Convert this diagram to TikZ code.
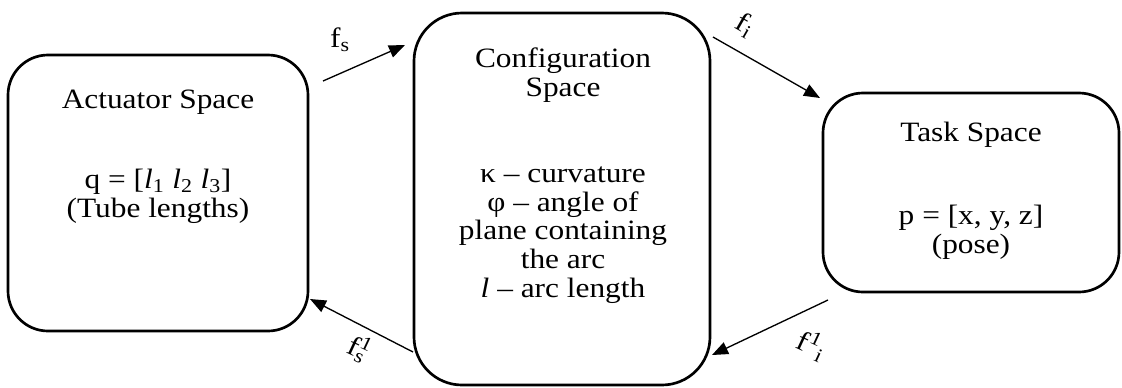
\documentclass[tikz,border=0pt]{standalone}
\usepackage{fontspec}
\setmainfont{Liberation Serif}[FakeStretch=1.12]
\usetikzlibrary{arrows.meta}
\begin{document}
\begin{tikzpicture}[x=0.75pt,y=-0.75pt,
  box/.style={draw,line width=2pt,rounded corners=30pt},
  txt/.style={align=center,inner sep=0pt,font=\fontsize{21}{21.6}\selectfont},
  lbl/.style={inner sep=0pt,font=\fontsize{21}{22}\selectfont},
  conn/.style={line width=1pt,-{Triangle[length=12pt,width=9.5pt]}}]
\useasboundingbox (0,0) rectangle (1122,387);
% boxes
\node[box,minimum width=300*0.75pt,minimum height=276*0.75pt] (act) at (158,193) {};
\node[box,rounded corners=36pt,minimum width=296*0.75pt,minimum height=372*0.75pt] (conf) at (562,199) {};
\node[box,minimum width=296*0.75pt,minimum height=199*0.75pt] (task) at (971,192.5) {};
% texts
\node[txt] (acttitle) at (158,102) {Actuator Space};
\node[txt] (actbody) at (158,196) {q = [\textit{l}\textsubscript{1} \textit{l}\textsubscript{2} \textit{l}\textsubscript{3}]\\(Tube lengths)};
\node[txt] (conftitle) at (563,75) {Configuration\\Space};
\node[txt] (confbody) at (563,235) {κ – curvature\\φ – angle of\\plane containing\\the arc\\\textit{l} – arc length};
\node[txt] (tasktitle) at (971,135) {Task Space};
\node[txt] (taskbody) at (971,232) {p = [x, y, z]\\(pose)};
% connector end points
\coordinate (fsA) at (323,81);
\coordinate (fsB) at (405,45);
\coordinate (fiA) at (713,37);
\coordinate (fiB) at (820,98);
\coordinate (fsiA) at (413,352);
\coordinate (fsiB) at (310,299);
\coordinate (fiiA) at (828,300);
\coordinate (fiiB) at (712,355);
\draw[conn] (fsA) -- (fsB);
\draw[conn] (fiA) -- (fiB);
\draw[conn] (fsiA) -- (fsiB);
\draw[conn] (fiiA) -- (fiiB);
% labels
\node[lbl] (lfs) at (340,40) {f\textsubscript{s}};
\node[lbl,rotate=-30] (lfi) at (745,25) {f\textsubscript{i}};
\node[lbl,rotate=-25] (lfsi) at (358,348) {f\rlap{\textsuperscript{1}}\textsubscript{s}};
\node[lbl,rotate=-25] (lfii) at (812,345) {f\textsuperscript{1}\textsubscript{i}};
\end{tikzpicture}
\end{document}
